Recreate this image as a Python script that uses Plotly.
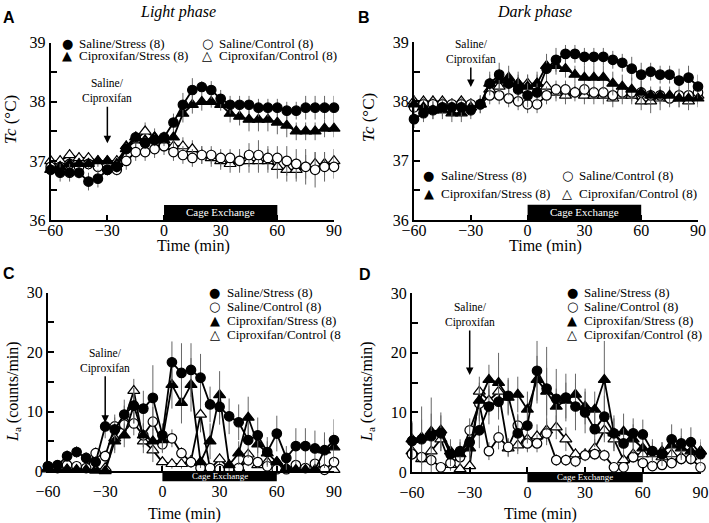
import plotly.graph_objects as go

W, H = 709, 523
FONT = "Liberation Serif"

# ---------------- data ----------------
time_min = list(range(-60, 95, 5))
series_names = ["Saline/Stress (8)", "Saline/Control (8)", "Ciproxifan/Stress (8)", "Ciproxifan/Control (8)"]

# Panel A: Light phase, Tc (°C)
a_saline_stress = [36.85, 36.8, 36.8, 36.8, 36.65, 36.7, 36.85, 36.9, 37.2, 37.4, 37.3, 37.35, 37.4, 37.65, 37.95, 38.2,
                   38.25, 38.2, 38.05, 37.95, 37.95, 37.95, 37.9, 37.9, 37.9, 37.85, 37.85, 37.9, 37.9, 37.9, 37.9]
a_saline_control = [36.9, 36.9, 36.95, 36.9, 36.95, 36.9, 36.85, 36.85, 37.0, 37.15, 37.15, 37.2, 37.25, 37.15, 37.1, 37.05,
                    37.1, 37.1, 37.05, 37.05, 37.0, 37.1, 37.1, 37.05, 37.05, 37.0, 36.95, 36.9, 36.85, 36.9, 36.9]
a_cipro_stress = [36.85, 36.9, 36.95, 36.95, 36.95, 37.0, 37.0, 36.95, 37.25, 37.4, 37.35, 37.4, 37.35, 37.4, 37.8, 37.95,
                  38.0, 38.0, 37.95, 37.8, 37.75, 37.7, 37.7, 37.7, 37.65, 37.6, 37.5, 37.5, 37.5, 37.55, 37.55]
a_cipro_control = [37.0, 37.0, 37.1, 37.05, 37.05, 37.0, 37.0, 37.0, 37.2, 37.35, 37.5, 37.4, 37.3, 37.25, 37.25, 37.2,
                   37.1, 37.05, 37.0, 36.95, 37.0, 37.0, 37.0, 37.0, 36.9, 36.85, 36.85, 36.9, 36.95, 36.95, 37.0]
a_err_ss = [0.1, 0.15, 0.15, 0.1, 0.15, 0.15, 0.1, 0.1, 0.1, 0.1, 0.1, 0.1, 0.1, 0.15, 0.2, 0.2,
            0.1, 0.15, 0.15, 0.15, 0.15, 0.15, 0.15, 0.15, 0.15, 0.15, 0.15, 0.2, 0.2, 0.2, 0.2]
a_err_sc = [0.1, 0.1, 0.1, 0.1, 0.1, 0.1, 0.1, 0.1, 0.15, 0.15, 0.15, 0.15, 0.15, 0.15, 0.15, 0.15,
            0.15, 0.15, 0.15, 0.15, 0.2, 0.2, 0.25, 0.2, 0.2, 0.25, 0.25, 0.3, 0.3, 0.25, 0.2]
a_err_cs = [0.1, 0.1, 0.1, 0.1, 0.1, 0.1, 0.1, 0.1, 0.1, 0.1, 0.1, 0.1, 0.1, 0.15, 0.15, 0.15,
            0.15, 0.1, 0.1, 0.15, 0.15, 0.2, 0.2, 0.2, 0.2, 0.2, 0.15, 0.15, 0.15, 0.15, 0.15]
a_err_cc = [0.1, 0.1, 0.1, 0.1, 0.1, 0.1, 0.1, 0.1, 0.1, 0.15, 0.15, 0.15, 0.15, 0.15, 0.15, 0.15,
            0.15, 0.15, 0.15, 0.15, 0.15, 0.2, 0.2, 0.2, 0.2, 0.2, 0.2, 0.2, 0.2, 0.2, 0.2]

# Panel B: Dark phase, Tc (°C)
b_saline_stress = [37.7, 37.8, 37.85, 37.9, 37.9, 37.9, 37.85, 37.95, 38.3, 38.45, 38.3, 38.2, 38.1, 38.15, 38.55, 38.7,
                   38.8, 38.8, 38.75, 38.75, 38.75, 38.7, 38.65, 38.55, 38.45, 38.5, 38.45, 38.45, 38.35, 38.4, 38.25]
b_saline_control = [37.9, 37.95, 37.95, 37.95, 37.95, 37.95, 37.95, 37.95, 38.1, 38.1, 38.05, 38.0, 37.95, 37.95, 38.1, 38.2,
                    38.2, 38.15, 38.2, 38.15, 38.15, 38.1, 38.15, 38.15, 38.15, 38.1, 38.1, 38.05, 38.1, 38.1, 38.15]
b_cipro_stress = [37.95, 37.9, 37.85, 37.85, 37.8, 37.8, 37.9, 37.95, 38.3, 38.35, 38.4, 38.3, 38.25, 38.3, 38.6, 38.6,
                  38.55, 38.45, 38.4, 38.4, 38.4, 38.3, 38.25, 38.2, 38.15, 38.1, 38.1, 38.1, 38.05, 38.05, 38.05]
b_cipro_control = [38.0, 38.0, 38.0, 38.0, 37.95, 38.0, 37.95, 37.95, 38.2, 38.25, 38.3, 38.3, 38.3, 38.3, 38.25, 38.15,
                   38.1, 38.15, 38.1, 38.1, 38.1, 38.05, 38.1, 38.1, 38.0, 38.0, 38.05, 38.05, 38.05, 38.0, 38.1]
b_err_ss = [0.15, 0.15, 0.15, 0.15, 0.15, 0.15, 0.15, 0.15, 0.15, 0.2, 0.2, 0.2, 0.2, 0.15, 0.2, 0.2,
            0.15, 0.15, 0.15, 0.15, 0.15, 0.15, 0.15, 0.2, 0.2, 0.15, 0.15, 0.15, 0.2, 0.2, 0.2]
b_err_sc = [0.1, 0.1, 0.1, 0.1, 0.1, 0.1, 0.1, 0.1, 0.15, 0.15, 0.15, 0.15, 0.15, 0.15, 0.15, 0.15,
            0.15, 0.1, 0.1, 0.1, 0.1, 0.1, 0.1, 0.1, 0.1, 0.1, 0.1, 0.1, 0.1, 0.1, 0.1]
b_err_cs = [0.15, 0.15, 0.15, 0.15, 0.15, 0.15, 0.15, 0.15, 0.2, 0.2, 0.2, 0.2, 0.2, 0.2, 0.2, 0.15,
            0.15, 0.15, 0.2, 0.2, 0.2, 0.2, 0.2, 0.2, 0.2, 0.15, 0.15, 0.15, 0.15, 0.15, 0.15]
b_err_cc = [0.1, 0.1, 0.1, 0.1, 0.1, 0.1, 0.1, 0.1, 0.15, 0.15, 0.15, 0.15, 0.15, 0.15, 0.15, 0.15,
            0.15, 0.15, 0.15, 0.15, 0.15, 0.15, 0.15, 0.15, 0.15, 0.2, 0.2, 0.15, 0.15, 0.15, 0.15]

# Panel C: Light phase, La (counts/min)
c_saline_stress = [0.8, 1.0, 2.5, 3.2, 2.2, 1.5, 7.5, 7.0, 9.5, 11.0, 10.5, 12.3, 6.0, 18.3, 16.5, 17.0,
                   15.7, 11.2, 10.8, 9.2, 8.2, 5.2, 6.0, 3.2, 6.3, 2.2, 4.2, 4.2, 3.8, 3.5, 5.2]
c_saline_control = [0.8, 0.5, 1.0, 0.8, 0.5, 3.0, 2.5, 7.5, 7.8, 8.0, 6.0, 8.3, 4.5, 5.5, 3.0, 1.5,
                    0.5, 0.5, 0.3, 0.3, 0.5, 1.8, 1.5, 0.8, 0.3, 0.3, 1.0, 0.5, 1.2, 0.2, 1.5]
c_cipro_stress = [0.3, 0.2, 0.3, 0.2, 0.2, 0.1, 0.0, 5.0, 6.0, 11.0, 6.0, 5.0, 5.2, 14.5, 11.5, 14.5,
                  1.5, 5.0, 12.8, 1.0, 3.0, 9.0, 4.5, 3.0, 1.5, 0.5, 0.2, 0.2, 0.2, 3.5, 4.0]
c_cipro_control = [0.5, 0.2, 0.2, 0.2, 0.3, 0.2, 0.5, 5.5, 8.5, 13.5, 5.0, 3.5, 1.5, 1.2, 1.2, 1.7,
                   9.5, 0.3, 2.0, 0.5, 0.5, 2.8, 1.0, 1.5, 1.5, 0.2, 0.2, 0.2, 0.2, 0.3, 0.2]
c_err_ss = [0.5, 0.5, 1.0, 1.0, 1.0, 1.0, 2.0, 2.0, 2.5, 3.0, 3.0, 5.5, 2.0, 3.5, 5.0, 4.5,
            4.0, 3.0, 3.0, 3.0, 3.0, 3.0, 3.0, 2.5, 3.0, 2.0, 3.0, 3.0, 3.0, 3.0, 3.5]
c_err_sc = [0.5, 0.5, 0.5, 0.5, 0.5, 1.0, 1.0, 2.0, 2.0, 2.0, 2.0, 2.5, 1.5, 1.5, 1.0, 1.0,
            0.5, 0.5, 0.5, 0.5, 0.5, 1.0, 1.0, 0.5, 0.5, 0.5, 0.5, 0.5, 0.5, 0.5, 1.0]
c_err_cs = [0.3, 0.3, 0.3, 0.3, 0.3, 0.3, 0.3, 2.0, 2.0, 3.0, 2.0, 2.0, 2.0, 4.0, 3.5, 4.5,
            1.0, 3.0, 4.0, 1.0, 2.0, 3.5, 2.0, 2.0, 1.0, 0.5, 0.5, 0.5, 0.5, 2.0, 2.5]
c_err_cc = [0.3, 0.3, 0.3, 0.3, 0.3, 0.3, 0.3, 2.0, 2.5, 2.0, 2.0, 2.0, 1.0, 0.8, 0.8, 1.0,
            3.0, 0.3, 1.0, 0.3, 0.3, 1.0, 0.5, 1.0, 1.0, 0.3, 0.3, 0.3, 0.3, 0.3, 0.3]

# Panel D: Dark phase, La (counts/min)
d_saline_stress = [5.2, 5.5, 6.0, 6.5, 3.0, 3.5, 5.0, 7.0, 11.0, 11.8, 12.8, 6.5, 7.8, 17.0, 14.0, 12.3,
                   12.5, 11.0, 10.0, 7.2, 9.3, 6.5, 4.8, 6.5, 6.3, 3.5, 3.0, 5.5, 4.8, 5.0, 3.0]
d_saline_control = [3.0, 2.5, 2.0, 0.8, 1.5, 2.5, 7.0, 11.5, 3.5, 5.8, 4.2, 7.8, 4.8, 4.8, 6.5, 2.0,
                    2.0, 1.8, 2.8, 3.0, 2.8, 0.8, 0.8, 2.5, 1.5, 1.0, 1.2, 1.5, 2.2, 2.2, 0.8]
d_cipro_stress = [5.5, 5.8, 6.8, 7.0, 3.5, 3.0, 4.0, 12.0, 15.5, 15.0, 12.5, 13.0, 10.5, 15.5, 13.5, 11.0,
                  12.0, 13.0, 11.0, 10.5, 15.5, 6.5, 6.8, 5.5, 4.0, 3.5, 3.5, 4.5, 4.0, 3.5, 3.5]
d_cipro_control = [3.5, 2.2, 3.5, 5.5, 1.2, 0.5, 1.0, 13.5, 12.0, 13.5, 4.0, 4.5, 5.5, 6.0, 7.0, 7.5,
                   5.5, 3.0, 3.0, 4.0, 7.0, 5.5, 2.0, 3.0, 3.0, 3.0, 2.5, 3.0, 2.5, 2.5, 3.5]
d_err_ss = [3.0, 5.5, 6.5, 3.0, 2.0, 2.0, 3.0, 3.0, 3.0, 3.0, 3.0, 3.0, 3.0, 5.0, 7.0, 5.0,
            4.0, 4.0, 3.5, 3.0, 3.5, 2.5, 2.5, 2.5, 2.5, 2.0, 2.0, 2.5, 2.5, 2.5, 2.0]
d_err_sc = [1.0, 1.0, 1.0, 0.5, 0.5, 1.0, 2.0, 3.0, 1.5, 2.0, 1.5, 2.0, 1.5, 1.5, 2.0, 1.0,
            1.0, 1.0, 1.0, 1.0, 1.0, 0.5, 0.5, 1.0, 0.5, 0.5, 0.5, 0.5, 1.0, 1.0, 0.5]
d_err_cs = [3.0, 3.0, 3.0, 3.0, 2.0, 2.0, 2.0, 3.0, 2.5, 5.0, 3.0, 3.0, 3.0, 4.0, 4.0, 3.0,
            3.0, 3.5, 3.0, 3.0, 6.5, 3.0, 3.0, 2.5, 2.0, 1.5, 1.5, 2.0, 2.0, 2.0, 2.0]
d_err_cc = [1.5, 1.0, 1.5, 2.0, 1.0, 0.5, 0.5, 2.5, 2.5, 2.5, 1.5, 1.5, 2.0, 2.0, 2.0, 2.0,
            2.0, 1.0, 1.0, 1.5, 2.0, 2.0, 1.0, 1.0, 1.0, 1.0, 1.0, 1.0, 1.0, 1.0, 1.0]

XMIN, XMAX = -60, 90
x_tickvals = [-60, -30, 0, 30, 60, 90]
tc_tickvals = [36, 36.5, 37, 37.5, 38, 38.5, 39]
tc_ticktext = ["36", "", "37", "", "38", "", "39"]
la_tickvals = [0, 5, 10, 15, 20, 25, 30]
la_ticktext = ["0", "", "10", "", "20", "", "30"]
CAGE_START, CAGE_END = 0, 60
INJECTION_TIME = -30

# ---------------- layout helpers ----------------
def px(x):
    return x / W

def py(y):
    return 1 - y / H

panels = {
    "A": dict(xa="x", ya="y", xd=[px(50.7), px(334)], yd=[py(220), py(42.7)]),
    "B": dict(xa="x2", ya="y2", xd=[px(414), px(698)], yd=[py(220), py(42)]),
    "C": dict(xa="x3", ya="y3", xd=[px(48), px(334)], yd=[py(471), py(292.7)]),
    "D": dict(xa="x4", ya="y4", xd=[px(412), px(700.5)], yd=[py(472), py(293.3)]),
}

styles = [
    dict(symbol="circle", color="black", size=9.5),
    dict(symbol="circle", color="white", size=9.5),
    dict(symbol="triangle-up", color="black", size=10.5),
    dict(symbol="triangle-up", color="white", size=10.5),
]

panel_data = {
    "A": ([a_saline_stress, a_saline_control, a_cipro_stress, a_cipro_control], [a_err_ss, a_err_sc, a_err_cs, a_err_cc]),
    "B": ([b_saline_stress, b_saline_control, b_cipro_stress, b_cipro_control], [b_err_ss, b_err_sc, b_err_cs, b_err_cc]),
    "C": ([c_saline_stress, c_saline_control, c_cipro_stress, c_cipro_control], [c_err_ss, c_err_sc, c_err_cs, c_err_cc]),
    "D": ([d_saline_stress, d_saline_control, d_cipro_stress, d_cipro_control], [d_err_ss, d_err_sc, d_err_cs, d_err_cc]),
}

fig = go.Figure()
draw_order = [3, 1, 2, 0]
for key, (vals, errs) in panel_data.items():
    p = panels[key]
    for i in draw_order:
        st = styles[i]
        fig.add_trace(go.Scatter(
            x=time_min, y=vals[i], xaxis=p["xa"], yaxis=p["ya"],
            mode="lines+markers", name=series_names[i], showlegend=False,
            line=dict(color="black", width=1.8),
            marker=dict(symbol=st["symbol"], size=st["size"], color=st["color"],
                        line=dict(color="black", width=1.2)),
            error_y=dict(type="data", array=errs[i], visible=True, color="#666666",
                         thickness=1, width=0),
            cliponaxis=False,
        ))

layout = dict(
    width=W, height=H, margin=dict(l=0, r=0, t=0, b=0),
    paper_bgcolor="white", plot_bgcolor="white", showlegend=False,
    font=dict(family=FONT, color="black", size=15),
)

for idx, key in enumerate(["A", "B", "C", "D"]):
    p = panels[key]
    sfx = "" if idx == 0 else str(idx + 1)
    is_tc = key in ("A", "B")
    layout["xaxis" + sfx] = dict(
        domain=p["xd"], anchor=p["ya"], range=[XMIN, XMAX], tickvals=x_tickvals,
        showline=True, linecolor="black", linewidth=2, ticks="inside", ticklen=5,
        tickwidth=1.5, tickcolor="black", showgrid=False, zeroline=False,
        tickfont=dict(family=FONT, size=16), automargin=False,
        ticklabelstandoff=-5 if is_tc else 5,
    )
    layout["yaxis" + sfx] = dict(
        domain=p["yd"], anchor=p["xa"], range=[36, 39] if is_tc else [0, 30],
        tickvals=tc_tickvals if is_tc else la_tickvals,
        ticktext=tc_ticktext if is_tc else la_ticktext,
        showline=True, linecolor="black", linewidth=2, ticks="inside", ticklen=6,
        tickwidth=1.5, tickcolor="black", showgrid=False, zeroline=False,
        tickfont=dict(family=FONT, size=16), automargin=False,
    )
fig.update_layout(**layout)

shapes = []
annotations = []

# Cage exchange bars
cage_x0 = (CAGE_START - XMIN) / (XMAX - XMIN)
cage_x1 = (CAGE_END - XMIN) / (XMAX - XMIN)
for key in ["A", "B", "C", "D"]:
    p = panels[key]
    if key in ("A", "B"):
        y0, y1, fs = 0.0, 0.085, 11
    else:
        y0, y1, fs = -0.058, 0.0, 9
    shapes.append(dict(type="rect", xref=p["xa"] + " domain", yref=p["ya"] + " domain",
                       x0=cage_x0, x1=cage_x1, y0=y0, y1=y1,
                       fillcolor="black", line=dict(width=0), layer="above"))
    annotations.append(dict(xref=p["xa"] + " domain", yref=p["ya"] + " domain",
                            x=(cage_x0 + cage_x1) / 2, y=(y0 + y1) / 2,
                            text="Cage Exchange", showarrow=False,
                            font=dict(family=FONT, size=fs, color="white"),
                            xanchor="center", yanchor="middle"))

# injection arrows
arrow_specs = {"A": (37.3, -52), "B": (38.24, -35), "C": (8.1, -62), "D": (16.3, -60)}
for key, (yv, ay) in arrow_specs.items():
    p = panels[key]
    annotations.append(dict(xref=p["xa"], yref=p["ya"], x=INJECTION_TIME, y=yv,
                            text="Saline/<br>Ciproxifan", showarrow=True, ax=0, ay=ay,
                            arrowhead=2, arrowsize=1, arrowwidth=1.5, arrowcolor="black",
                            font=dict(family=FONT, size=11.5)))

# Titles, panel letters, axis titles
def ann(x, y, text, size=15, **kw):
    d = dict(xref="paper", yref="paper", x=px(x), y=py(y), text=text, showarrow=False,
             font=dict(family=kw.pop("family", FONT), size=size, color="black"),
             xanchor=kw.pop("xanchor", "center"), yanchor=kw.pop("yanchor", "middle"))
    d.update(kw)
    annotations.append(d)

ann(178, 12, "<i>Light phase</i>", 16)
ann(534, 12, "<i>Dark phase</i>", 16)
for letter, (lx, ly) in {"A": (9, 17), "B": (364, 17), "C": (9, 273), "D": (365, 274)}.items():
    ann(lx, ly, "<b>" + letter + "</b>", 16, family="Liberation Sans")

ann(193, 246, "Time (min)", 16)
ann(545, 246, "Time (min)", 16)
ann(184, 514, "Time (min)", 16)
ann(540, 514, "Time (min)", 16)
ann(11, 120, "<i>Tc</i> (°C)", 17, textangle=-90)
ann(368, 118, "<i>Tc</i> (°C)", 17, textangle=-90)
ann(13, 392, "<i>L</i><sub>a</sub> (counts/min)", 16, textangle=-90)
ann(367, 392, "<i>L</i><sub>a</sub> (counts/min)", 16, textangle=-90)

# Legends (text annotations)
sym = ["●", "○", "▲", "△"]
legend_layout = {
    "A": [(67, 43, 0), (207, 43, 1), (67, 55.5, 2), (207, 55.5, 3)],
    "B": [(429, 175, 0), (567, 175, 1), (429, 193, 2), (567, 193, 3)],
    "C": [(215, 292.7, 0), (215, 306.5, 1), (215, 320.5, 2), (215, 334, 3)],
    "D": [(572, 292.7, 0), (572, 306.5, 1), (572, 320.5, 2), (572, 334, 3)],
}
for key, items in legend_layout.items():
    for (sx, sy, i) in items:
        label = series_names[i]
        if key == "C" and i == 3:
            label = "Ciproxifan/Control (8"
        ann(sx, sy, sym[i], 13, family="DejaVu Sans")
        ann(sx + 10, sy, label, 13, xanchor="left")

fig.update_layout(shapes=shapes, annotations=annotations)
fig.write_html("out.html", config={"displayModeBar": False},
               post_script="document.body.style.margin='0';document.body.style.overflow='hidden';")
